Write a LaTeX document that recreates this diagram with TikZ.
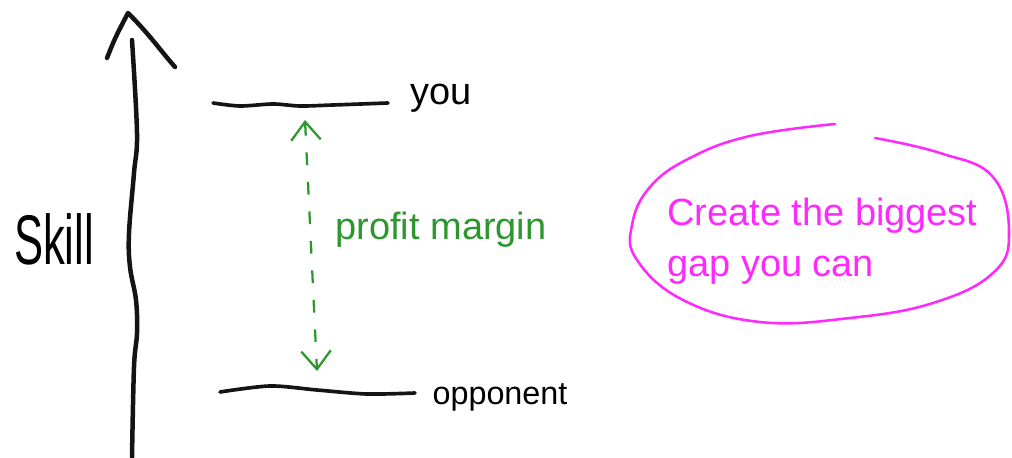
\documentclass[tikz,border=0pt]{standalone}
\usepackage{fontspec}
\setmainfont{Liberation Sans}
\usetikzlibrary{arrows.meta}
\definecolor{ink}{RGB}{20,20,20}
\definecolor{margingreen}{RGB}{45,150,45}
\definecolor{notepink}{RGB}{255,40,255}

\begin{document}
\begin{tikzpicture}[x=0.025cm, y=-0.025cm,
  pen/.style={ink, line width=2.6pt, line cap=round, line join=round},
  hand/.style={inner sep=0pt, anchor=base},
  >={Straight Barb[length=13pt, width=21pt]}]
\useasboundingbox (0,0) rectangle (1012,458);

\coordinate (ax1) at (132,457);
\coordinate (ax2) at (132,40);
\coordinate (tip) at (128,13);
\draw[pen, line width=3.2pt] plot[smooth, tension=0.6] coordinates {(ax1) (134,367) (137,333) (136,300) (130,267) (129,233) (134,173) (137,133) (ax2)};
\draw[pen, line width=3.2pt] (107,58) .. controls (115,38) .. (tip) .. controls (150,35) and (160,50) .. (175,67);

\node[hand, font=\fontsize{50}{60}\selectfont] (skill) at (54,265) {\scalebox{0.62}[1]{Skill}};

\coordinate (you1) at (213,103);
\coordinate (you2) at (388,103);
\draw[pen] plot[smooth] coordinates {(you1) (240,106) (273,104) (300,106) (333,105) (you2)};
\node[hand, font=\fontsize{27}{32}\selectfont] (you) at (441,105) {you};

\coordinate (opp1) at (220,392);
\coordinate (opp2) at (415,393);
\draw[pen] plot[smooth] coordinates {(opp1) (270,386) (317,390) (367,394) (opp2)};
\node[hand, font=\fontsize{23}{28}\selectfont] (opp) at (500,404) {opponent};

\coordinate (m1) at (305,120);
\coordinate (m2) at (317,371);
\draw[margingreen, line width=1.6pt, dash pattern=on 9pt off 12pt, <->] (m1) -- (m2);
\node[hand, margingreen, font=\fontsize{27}{32}\selectfont] (gap) at (441,240) {profit margin};

\node[inner sep=0pt, anchor=north west, align=left, notepink, font=\fontsize{27}{36}\selectfont] (msg) at (667,198) {Create the biggest\\gap you can};
\draw[notepink, line width=1.8pt, line cap=round] plot[smooth, tension=0.7] coordinates {(875,138) (940,153) (993,177) (1009,233) (993,273) (933,303) (850,318) (760,322) (683,300) (637,260) (632,225) (650,187) (690,158) (750,136) (835,124)};
\end{tikzpicture}
\end{document}
